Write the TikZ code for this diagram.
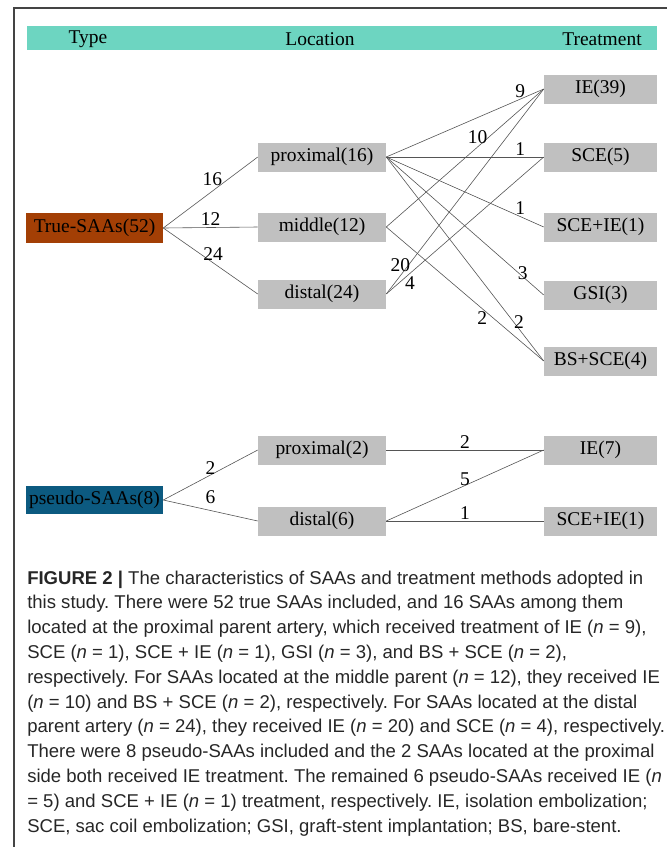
\documentclass[tikz,border=0pt]{standalone}
\usepackage{fontspec}
\setmainfont{Liberation Serif}
\newfontfamily\capfont{Liberation Sans}
\definecolor{headteal}{HTML}{6DD5C1}
\definecolor{rust}{HTML}{A33F05}
\definecolor{deepblue}{HTML}{0C5A80}
\definecolor{boxgray}{HTML}{C0C0C0}
\definecolor{linegray}{HTML}{555555}
\definecolor{framegray}{HTML}{444444}
\frenchspacing

\begin{document}
\begin{tikzpicture}[x=0.75pt,y=-0.75pt,
  font=\fontsize{14.6}{17}\selectfont,
  gbox/.style={fill=boxgray, minimum height=21.75pt, inner sep=0pt},
  locbox/.style={gbox, minimum width=96pt},
  trtbox/.style={gbox, minimum width=84.75pt},
  typebox/.style={minimum width=102.75pt, minimum height=22pt, inner sep=0pt},
  link/.style={draw=linegray, line width=0.45pt},
  lbl/.style={inner sep=1pt}]
\useasboundingbox (0,0) rectangle (667,847);
% frame and header
\draw [framegray, line width=0.9pt] (14,847) -- (14,8) -- (667,8);
\fill [headteal] (27,26) rectangle (657,50);
\node (hType) at (88,39) {Type};
\node (hLoc) at (320,39) {Location};
\node (hTrt) at (602,39) {Treatment};

% true SAAs
\node [typebox, fill=rust] (trueS) at (94.5,228) {True-SAAs(52)};
\node [locbox] (prox) at (322,157) {proximal(16)};
\node [locbox] (mid) at (322,227) {middle(12)};
\node [locbox] (dist) at (322,294) {distal(24)};
\node [trtbox] (ie) at (600.5,89) {IE(39)};
\node [trtbox] (sce) at (600.5,157) {SCE(5)};
\node [trtbox] (sceie) at (600.5,227) {SCE+IE(1)};
\node [trtbox] (gsi) at (600.5,295) {GSI(3)};
\node [trtbox] (bs) at (600.5,361) {BS+SCE(4)};

\draw [link] (trueS.east) -- node [lbl, pos=0.52, above=3pt] {16} (prox.west);
\draw [link] (trueS.east) -- node [lbl, pos=0.5, above] {12} (mid.west);
\draw [link] (trueS.east) -- node [lbl, pos=0.45, above right=-3pt] {24} (dist.west);

\draw [link] (prox.east) -- node [lbl, pos=0.85, above] {9} (ie.west);
\draw [link] (prox.east) -- node [lbl, pos=0.85, above] {1} (sce.west);
\draw [link] (prox.east) -- node [lbl, pos=0.85, above] {1} (sceie.west);
\draw [link] (prox.east) -- node [lbl, pos=0.86, above right=-4pt] {3} (gsi.west);
\draw [link] (prox.east) -- node [lbl, pos=0.81, right=-1pt] {2} (bs.west);
\draw [link] (mid.east) -- node [lbl, pos=0.58, above=1pt] {10} (ie.west);
\draw [link] (mid.east) -- node [lbl, pos=0.61, below=1pt] {2} (bs.west);
\draw [link] (dist.east) -- node [lbl, pos=0.09, above=2pt] {20} (ie.west);
\draw [link] (dist.east) -- node [lbl, pos=0.15, below=1pt] {4} (sce.west);

% pseudo SAAs
\node [typebox, fill=deepblue, minimum height=21pt] (pseudoS) at (94.5,500) {pseudo-SAAs(8)};
\node [locbox] (pprox) at (322,450) {proximal(2)};
\node [locbox] (pdist) at (322,521) {distal(6)};
\node [trtbox] (pie) at (600.5,450) {IE(7)};
\node [trtbox] (psceie) at (600.5,521) {SCE+IE(1)};

\draw [link] (pseudoS.east) -- node [lbl, pos=0.5, above=-1pt] {2} (pprox.west);
\draw [link] (pseudoS.east) -- node [lbl, pos=0.5, above=4pt] {6} (pdist.west);
\draw [link] (pprox.east) -- node [lbl, pos=0.5, above] {2} (pie.west);
\draw [link] (pdist.east) -- node [lbl, pos=0.5, above=-1pt] {5} (pie.west);
\draw [link] (pdist.east) -- node [lbl, pos=0.5, above] {1} (psceie.west);

% caption
\node [anchor=base west, inner sep=0pt, text=black!85,
  font=\capfont\fontsize{13.9}{18.6}\selectfont] (cap) at (27,584) {%
\begin{tabular}[t]{@{}l@{}}
\textbf{FIGURE 2 |} The characteristics of SAAs and treatment methods adopted in\\
this study. There were 52 true SAAs included, and 16 SAAs among them\\
located at the proximal parent artery, which received treatment of IE (\textit{n} = 9),\\
SCE (\textit{n} = 1), SCE + IE (\textit{n} = 1), GSI (\textit{n} = 3), and BS + SCE (\textit{n} = 2),\\
respectively. For SAAs located at the middle parent (\textit{n} = 12), they received IE\\
(\textit{n} = 10) and BS + SCE (\textit{n} = 2), respectively. For SAAs located at the distal\\
parent artery (\textit{n} = 24), they received IE (\textit{n} = 20) and SCE (\textit{n} = 4), respectively.\\
There were 8 pseudo-SAAs included and the 2 SAAs located at the proximal\\
side both received IE treatment. The remained 6 pseudo-SAAs received IE (\textit{n}\\
= 5) and SCE + IE (\textit{n} = 1) treatment, respectively. IE, isolation embolization;\\
SCE, sac coil embolization; GSI, graft-stent implantation; BS, bare-stent.
\end{tabular}};
\end{tikzpicture}
\end{document}
